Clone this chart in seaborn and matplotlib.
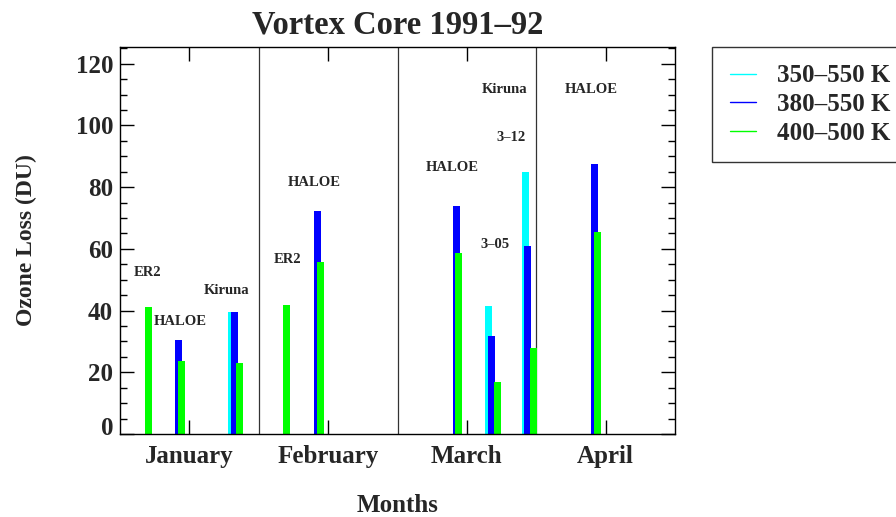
import numpy as np
import pandas as pd
import matplotlib
matplotlib.use('Agg')
import matplotlib.pyplot as plt
from matplotlib.lines import Line2D
from matplotlib.ticker import MultipleLocator, FixedLocator
from matplotlib.transforms import ScaledTranslation
import seaborn as sns

# x positions are in months counted from 1 January (0 = start of Jan, 1 = start of Feb ...)
cyan_x = [0.806, 2.659, 2.920]
cyan_loss = [39.4, 41.6, 84.8]
blue_x = [0.423, 0.823, 1.422, 2.422, 2.680, 2.939, 3.420]
blue_loss = [30.5, 39.4, 72.1, 74.0, 31.9, 61.0, 87.4]
green_x = [0.204, 0.445, 0.863, 1.202, 1.443, 2.441, 2.721, 2.980, 3.439]
green_loss = [41.0, 23.8, 22.9, 41.9, 55.6, 58.7, 16.7, 27.9, 65.4]

layers = ['350–550 K', '380–550 K', '400–500 K']
colors = ['#00ffff', '#0000ff', '#00ff00']
months = ['January', 'February', 'March', 'April']

note_text = ['ER2', 'HALOE', 'Kiruna', 'ER2', 'HALOE', 'HALOE', '3–05', 'Kiruna', '3–12', 'HALOE']
note_x = [0.20, 0.432, 0.771, 1.204, 1.398, 2.393, 2.703, 2.768, 2.818, 3.395]
note_y = [52.3, 36.4, 46.5, 56.5, 81.5, 86.3, 61.4, 111.6, 96.0, 111.6]

df = pd.DataFrame({
    'month': cyan_x + blue_x + green_x,
    'loss': cyan_loss + blue_loss + green_loss,
    'layer': [layers[0]] * len(cyan_x) + [layers[1]] * len(blue_x) + [layers[2]] * len(green_x),
})

sns.set_theme(style='ticks')
plt.rcParams['font.family'] = ['Liberation Serif', 'DejaVu Serif']
plt.rcParams['font.weight'] = 'bold'

fig = plt.figure(figsize=(8.96, 5.17), dpi=100)
ax = fig.add_axes([120 / 896, 1 - 434 / 517, 555 / 896, 387 / 517])

# bar width of 0.05 month; seaborn scales width by the smallest gap between positions
gap = np.min(np.diff(np.unique(df['month'])))
sns.barplot(data=df, x='month', y='loss', hue='layer', hue_order=layers,
            palette=colors, native_scale=True, dodge=False, width=0.05 / gap,
            linewidth=0, saturation=1, legend=False, ax=ax)

ax.set_xlim(0, 4)
ax.set_ylim(0, 125.4)
for b in [1, 2, 3]:
    ax.axvline(b, color='#333333', lw=0.9, zorder=0)

ax.xaxis.set_major_locator(FixedLocator([0.5, 1.5, 2.5, 3.5]))
ax.set_xticklabels(months)
ax.yaxis.set_major_locator(MultipleLocator(20))
ax.yaxis.set_minor_locator(MultipleLocator(5))
ax.tick_params(axis='both', which='major', direction='in', length=10, width=1,
               top=True, right=True, labelsize=18, color='black')
ax.tick_params(axis='y', which='minor', direction='in', length=5, width=1,
               left=True, right=True, color='black')
ax.tick_params(axis='x', pad=8)
ax.tick_params(axis='y', pad=5)
for s in ax.spines.values():
    s.set_color('black')
    s.set_linewidth(1)

for t, x, y in zip(note_text, note_x, note_y):
    ax.text(x, y, t, ha='center', va='center', fontsize=10.5, fontweight='bold')

ax.set_title('Vortex Core 1991–92', fontsize=23.5, fontweight='bold', pad=10)
ax.set_xlabel('Months', fontsize=18, fontweight='bold', labelpad=18.5)
ax.set_ylabel('Ozone Loss (DU)', fontsize=17, fontweight='bold', labelpad=28)

handles = [Line2D([], [], color=c, lw=1) for c in colors]
leg = ax.legend(handles, layers, loc='upper left', bbox_to_anchor=(712 / 896, 1 - 47 / 517),
                bbox_transform=fig.transFigure, frameon=True, fancybox=False,
                edgecolor='black', borderaxespad=0, borderpad=0.7, labelspacing=0.22,
                handlelength=1.05, handletextpad=0.85,
                prop={'family': 'Liberation Serif', 'weight': 'bold', 'size': 18})
leg.get_frame().set_linewidth(1)

# the "0" label sits a little above the axis line in the original
fig.canvas.draw()
for tk in ax.yaxis.get_major_ticks():
    if abs(tk.get_loc()) < 1e-9:
        tk.label1.set_transform(tk.label1.get_transform() +
                                ScaledTranslation(0, 0.08, fig.dpi_scale_trans))

fig.savefig('out.png', dpi=100)
